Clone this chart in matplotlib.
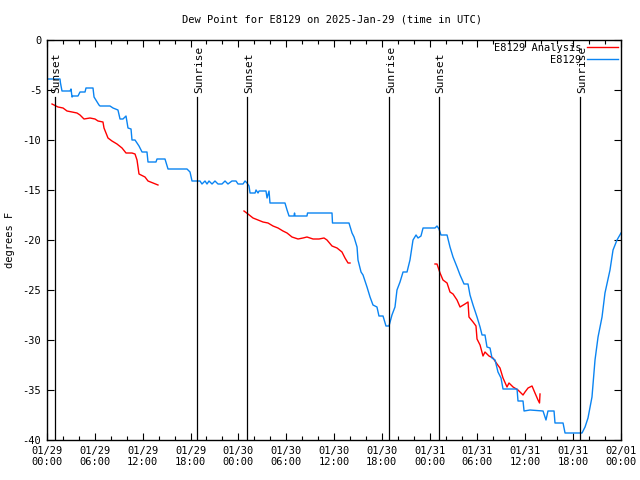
import numpy as np
import matplotlib
matplotlib.use("Agg")
import matplotlib.pyplot as plt

# ---- data (hours since 2025-01-29 00:00 UTC, degrees F) ----
obs_hours = [0.13, 1.63, 1.69, 1.88, 2.89, 3.01, 3.14, 3.26, 3.89, 4.14, 4.77, 4.89, 5.77, 5.90,
             6.52, 6.65, 7.90, 8.28, 8.90, 9.16, 9.53, 9.91, 10.16, 10.54, 10.66, 11.04, 11.54,
             11.92, 12.54, 12.67, 13.67, 13.80, 14.80, 15.18, 17.56, 17.94, 18.19, 19.19, 19.44,
             19.82, 20.07, 20.32, 20.70, 21.07, 21.45, 21.95, 22.33, 22.70, 23.20, 23.71, 23.96,
             24.59, 24.84, 25.09, 25.34, 25.47, 26.10, 26.22, 26.47, 26.60, 27.47, 27.60, 27.85,
             27.97, 29.85, 30.11, 30.36, 30.98, 31.05, 31.11, 32.61, 32.68, 35.75, 35.81, 37.88,
             38.26, 38.51, 38.89, 39.01, 39.39, 39.64, 40.14, 40.52, 40.89, 41.39, 41.64, 42.15,
             42.52, 42.90, 43.27, 43.65, 43.90, 44.28, 44.66, 45.16, 45.53, 45.91, 46.29, 46.54,
             46.91, 47.17, 48.67, 48.92, 49.17, 49.42, 50.18, 50.55, 50.93, 51.43, 51.81, 52.31,
             52.81, 53.06, 53.44, 53.94, 54.32, 54.57, 54.94, 55.19, 55.57, 55.82, 56.20, 56.57,
             56.95, 57.20, 58.96, 59.08, 59.71, 59.84, 60.59, 62.22, 62.59, 62.84, 63.60, 63.72,
             64.73, 64.98, 67.11, 67.49, 67.86, 68.36, 68.74, 69.12, 69.62, 69.99, 70.62, 71.00,
             71.50, 72.00]
obs_values = [-3.9, -3.9, -4.3, -5.1, -5.1, -4.9, -5.7, -5.6, -5.6, -5.2, -5.2, -4.8, -4.8, -5.7,
              -6.5, -6.6, -6.6, -6.8, -7.0, -7.9, -7.9, -7.6, -8.8, -8.9, -10.0, -10.0, -10.6,
              -11.2, -11.2, -12.2, -12.2, -11.9, -11.9, -12.9, -12.9, -13.2, -14.1, -14.1, -14.4,
              -14.1, -14.4, -14.1, -14.4, -14.1, -14.4, -14.4, -14.1, -14.4, -14.1, -14.1, -14.4,
              -14.4, -14.1, -14.3, -14.6, -15.3, -15.3, -15.0, -15.3, -15.1, -15.1, -15.8, -15.1,
              -16.3, -16.3, -17.0, -17.6, -17.6, -17.3, -17.6, -17.6, -17.3, -17.3, -18.3, -18.3,
              -19.3, -19.7, -20.7, -22.0, -23.2, -23.5, -24.7, -25.7, -26.5, -26.7, -27.6, -27.6,
              -28.6, -28.6, -27.5, -26.7, -25.0, -24.2, -23.2, -23.2, -22.0, -20.0, -19.5, -19.8,
              -19.6, -18.8, -18.8, -18.6, -18.9, -19.5, -19.5, -20.7, -21.7, -22.7, -23.5, -24.4,
              -24.4, -25.5, -26.5, -27.7, -28.7, -29.5, -29.5, -30.7, -30.8, -31.8, -32.0, -33.2,
              -33.8, -34.9, -34.9, -36.1, -36.1, -37.1, -37.0, -37.1, -38.0, -37.1, -37.1, -38.3,
              -38.3, -39.3, -39.3, -38.7, -37.8, -35.7, -32.0, -29.7, -27.7, -25.3, -23.0, -21.0,
              -20.0, -19.3]

ana_hours_1 = [0.63, 1.38, 2.01, 2.51, 3.14, 3.76, 4.14, 4.64, 5.39, 6.02, 6.40, 7.02, 7.15, 7.65,
               8.15, 8.78, 9.41, 9.91, 10.66, 11.04, 11.29, 11.54, 12.29, 12.67, 13.30, 13.92]
ana_values_1 = [-6.4, -6.7, -6.8, -7.1, -7.2, -7.3, -7.5, -7.9, -7.8, -7.9, -8.1, -8.2, -8.8, -9.8,
                -10.1, -10.4, -10.8, -11.3, -11.3, -11.4, -12.0, -13.4, -13.7, -14.1, -14.3, -14.5]
ana_hours_2 = [24.71, 25.21, 25.84, 26.47, 27.09, 27.72, 28.35, 28.98, 29.60, 30.11, 30.73, 31.49,
               32.11, 32.61, 33.37, 34.12, 34.75, 35.12, 35.75, 36.38, 37.00, 37.38, 37.76, 38.01]
ana_values_2 = [-17.1, -17.4, -17.8, -18.0, -18.2, -18.3, -18.6, -18.8, -19.1, -19.3, -19.7, -19.9,
                -19.8, -19.7, -19.9, -19.9, -19.8, -20.0, -20.6, -20.8, -21.2, -21.8, -22.3, -22.3]
ana_hours_3 = [48.67, 48.92, 49.30, 49.67, 50.18, 50.55, 50.93, 51.43, 51.81, 52.43, 52.81, 52.93,
               53.44, 53.81, 53.94, 54.32, 54.69, 54.94, 55.44, 55.94, 56.45, 56.82, 57.20, 57.70,
               57.95, 58.46, 59.08, 59.71, 59.96, 60.34, 60.84, 61.21, 61.59, 61.78, 61.84]
ana_values_3 = [-22.4, -22.4, -23.3, -24.0, -24.3, -25.2, -25.4, -26.0, -26.7, -26.4, -26.2, -27.7,
                -28.2, -28.6, -29.9, -30.5, -31.6, -31.2, -31.6, -31.8, -32.4, -32.8, -33.8, -34.7,
                -34.3, -34.7, -35.0, -35.5, -35.2, -34.8, -34.6, -35.3, -36.0, -36.3, -35.4]

event_hours = [1.0, 18.82, 25.09, 42.9, 49.17, 66.86]
event_labels = ["Sunset", "Sunrise", "Sunset", "Sunrise", "Sunset", "Sunrise"]

xtick_hours = [0, 6, 12, 18, 24, 30, 36, 42, 48, 54, 60, 66, 72]
xtick_labels = ["01/29\n00:00", "01/29\n06:00", "01/29\n12:00", "01/29\n18:00",
                "01/30\n00:00", "01/30\n06:00", "01/30\n12:00", "01/30\n18:00",
                "01/31\n00:00", "01/31\n06:00", "01/31\n12:00", "01/31\n18:00",
                "02/01\n00:00"]
ytick_values = [-40, -35, -30, -25, -20, -15, -10, -5, 0]

title = "Dew Point for E8129 on 2025-Jan-29 (time in UTC)"
ylabel = "degrees F"

RED = "#ff0000"
BLUE = "#0a84f2"
FONT = "DejaVu Sans Mono"
FS = 7

plt.rcParams['font.family'] = [FONT]
fig = plt.figure(figsize=(6.4, 4.8), dpi=100)
ax = fig.add_axes([47/640, 40/480, 574/640, 400/480])

lw = 1.0
ax.plot(ana_hours_1, ana_values_1, color=RED, lw=lw, label="E8129 Analysis")
ax.plot(ana_hours_2, ana_values_2, color=RED, lw=lw)
ax.plot(ana_hours_3, ana_values_3, color=RED, lw=lw)
ax.plot(obs_hours, obs_values, color=BLUE, lw=lw, label="E8129")

for h, lab in zip(event_hours, event_labels):
    ax.plot([h, h], [-40, -5.7], color="black", lw=0.9)
    ax.text(h + 0.22, -5.3, lab, rotation=90, ha="center", va="bottom", fontsize=FS + 1,
            family=FONT)

ax.set_xlim(0, 72)
ax.set_ylim(-40, 0)
ax.set_xticks(xtick_hours)
ax.set_xticklabels(xtick_labels, fontsize=FS + 0.5)
ax.set_xticks(np.arange(0, 73, 2), minor=True)
ax.set_yticks(ytick_values)
ax.set_yticklabels([str(v) for v in ytick_values], fontsize=FS + 0.5)
ax.tick_params(axis="both", which="major", direction="in", length=5, width=0.8,
               top=True, right=True, pad=4)
ax.tick_params(axis="both", which="minor", direction="in", length=3, width=0.8,
               top=True, right=False)
ax.tick_params(axis="y", which="minor", left=False, right=False)
for s in ax.spines.values():
    s.set_linewidth(1.0)

fig.text(332/640, 1 - 19/480, title, ha="center", va="center", fontsize=FS + 0.5, family=FONT)
fig.text(10/640, 0.5, ylabel, rotation=90, ha="center", va="center", fontsize=FS + 0.5,
         family=FONT)

leg = ax.legend(loc="upper right", markerfirst=False, frameon=False, fontsize=FS + 0.5,
                handlelength=3.0, labelspacing=0.15, borderaxespad=0.1, handletextpad=0.5,
                borderpad=0.2)

fig.savefig("out.png", dpi=100)
